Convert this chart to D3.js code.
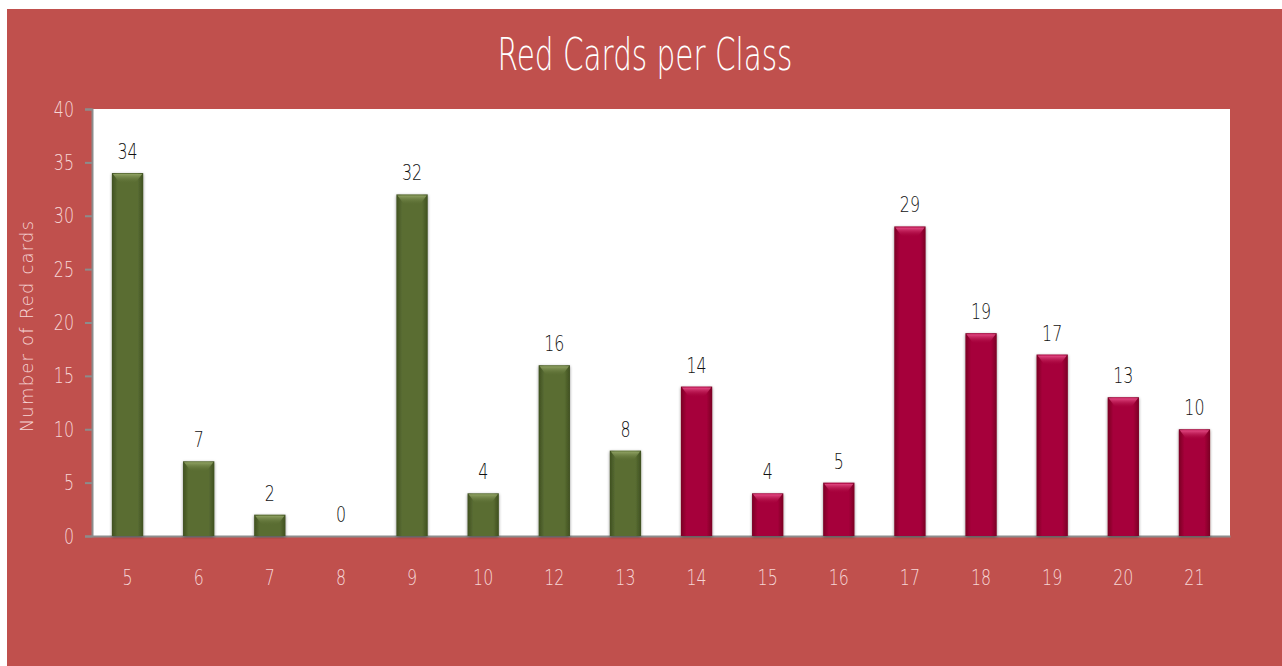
<!DOCTYPE html>
<html lang="en">
<head>
  <meta charset="UTF-8">
  <title>Red Cards per Class</title>
  <style>
    body { margin: 0; background: #fff; }
    text { font-family: "DejaVu Sans", sans-serif; font-weight: 200; }
  </style>
</head>
<body>
  <script src="https://cdn.jsdelivr.net/npm/d3@7/dist/d3.min.js"></script>
  <script>
// data
const classes = ['5', '6', '7', '8', '9', '10', '12', '13', '14', '15', '16', '17', '18', '19', '20', '21']
const redCards = [34, 7, 2, 0, 32, 4, 16, 8, 14, 4, 5, 29, 19, 17, 13, 10]
const groups = ['g', 'g', 'g', 'g', 'g', 'g', 'g', 'g', 'r', 'r', 'r', 'r', 'r', 'r', 'r', 'r']
const yTicks = [0, 5, 10, 15, 20, 25, 30, 35, 40]

const width = 1282
const height = 666
const margin = { top: 109, right: 52, bottom: 130, left: 92 }
const innerWidth = width - margin.left - margin.right
const innerHeight = height - margin.top - margin.bottom
const squeeze = 0.72 // 窄字体的横向压缩

const svg = d3.select('body').append('svg')
  .attr('width', width)
  .attr('height', height)

// 背景
svg.append('rect')
  .attr('x', 7).attr('y', 9)
  .attr('width', width - 7).attr('height', height - 9)
  .attr('fill', '#c0504d')

const defs = svg.append('defs')
const palettes = {
  g: { dark: '#3f5020', mid: '#5a6d33', light: '#93a566' },
  r: { dark: '#7a0024', mid: '#a6063a', light: '#e8508a' }
}
Object.entries(palettes).forEach(([k, c]) => {
  const lg = defs.append('linearGradient').attr('id', 'body-' + k)
    .attr('x1', 0).attr('x2', 1).attr('y1', 0).attr('y2', 0)
  lg.append('stop').attr('offset', '0%').attr('stop-color', c.dark)
  lg.append('stop').attr('offset', '18%').attr('stop-color', c.mid)
  lg.append('stop').attr('offset', '82%').attr('stop-color', c.mid)
  lg.append('stop').attr('offset', '100%').attr('stop-color', c.dark)
  const tg = defs.append('linearGradient').attr('id', 'top-' + k)
    .attr('x1', 0).attr('x2', 0).attr('y1', 0).attr('y2', 1)
  tg.append('stop').attr('offset', '0%').attr('stop-color', c.light).attr('stop-opacity', 0.95)
  tg.append('stop').attr('offset', '100%').attr('stop-color', c.mid).attr('stop-opacity', 0)
})
const shadow = defs.append('filter').attr('id', 'shadow')
  .attr('x', '-30%').attr('y', '-10%').attr('width', '160%').attr('height', '120%')
shadow.append('feDropShadow').attr('dx', 0).attr('dy', 1).attr('stdDeviation', 1.5)
  .attr('flood-color', '#000').attr('flood-opacity', 0.45)

// 标题
svg.append('text')
  .attr('transform', `translate(645, 70) scale(0.67, 1)`)
  .attr('text-anchor', 'middle')
  .attr('fill', '#fff')
  .attr('font-size', 44)
  .text('Red Cards per Class')

const g = svg.append('g').attr('transform', `translate(${margin.left}, ${margin.top})`)

// 绘图区
g.append('rect')
  .attr('width', innerWidth).attr('height', innerHeight)
  .attr('fill', '#fff')

const xScale = d3.scaleBand()
  .domain(classes)
  .range([0, innerWidth])
  .paddingInner(0.56)
  .paddingOuter(0.28)

const yScale = d3.scaleLinear()
  .domain([0, 40])
  .range([innerHeight, 0])

// y 轴
const yAxis = g.append('g')
  .call(d3.axisLeft(yScale).tickValues(yTicks).tickSize(7))
yAxis.select('.domain').attr('stroke', '#8c8c8c').attr('stroke-width', 2)
yAxis.selectAll('.tick line').attr('stroke', '#8c8c8c').attr('stroke-width', 2)
yAxis.selectAll('.tick text')
  .attr('x', -18 / squeeze)
  .attr('transform', `scale(${squeeze}, 1)`)
  .attr('fill', '#f6d6d6')
  .attr('font-size', 22)
  .attr('font-family', null)

// x 轴
const xAxis = g.append('g')
  .attr('transform', `translate(0, ${innerHeight})`)
  .call(d3.axisBottom(xScale).tickSize(0).tickPadding(33))
xAxis.select('.domain').attr('stroke', '#8c8c8c').attr('stroke-width', 2)
xAxis.selectAll('.tick text')
  .attr('transform', `scale(${squeeze}, 1)`)
  .attr('fill', '#f6d6d6')
  .attr('font-size', 22)
  .attr('font-family', null)

// y 轴标题
svg.append('text')
  .attr('transform', 'translate(33, 326) rotate(-90)')
  .attr('text-anchor', 'middle')
  .attr('fill', '#f6d6d6')
  .attr('font-size', 18)
  .attr('letter-spacing', 1.2)
  .text('Number of Red cards')

// 柱子
const bars = g.selectAll('.bar')
  .data(redCards)
  .enter()
  .append('g')
  .attr('class', 'bar')

bars.each(function (d, i) {
  if (d <= 0) return
  const sel = d3.select(this)
  const x = xScale(classes[i])
  const w = xScale.bandwidth()
  const top = yScale(d)
  sel.append('rect')
    .attr('x', x)
    .attr('y', top)
    .attr('width', w)
    .attr('height', innerHeight - top)
    .attr('fill', `url(#body-${groups[i]})`)
    .attr('filter', 'url(#shadow)')
  // 顶部高光
  sel.append('path')
    .attr('d', `M${x + 1},${top + 1} L${x + w - 1},${top + 1} L${x + w - 7},${top + 9} Q${x + w / 2},${top + 12} ${x + 7},${top + 9} Z`)
    .attr('fill', `url(#top-${groups[i]})`)
})

// 数值标签
g.selectAll('.label')
  .data(redCards)
  .enter()
  .append('text')
  .attr('class', 'label')
  .attr('transform', (d, i) =>
    `translate(${xScale(classes[i]) + xScale.bandwidth() / 2}, ${yScale(d) - 14}) scale(${squeeze}, 1)`)
  .attr('text-anchor', 'middle')
  .attr('fill', '#111')
  .attr('font-size', 22)
  .text(d => d)
  </script>
</body>
</html>
